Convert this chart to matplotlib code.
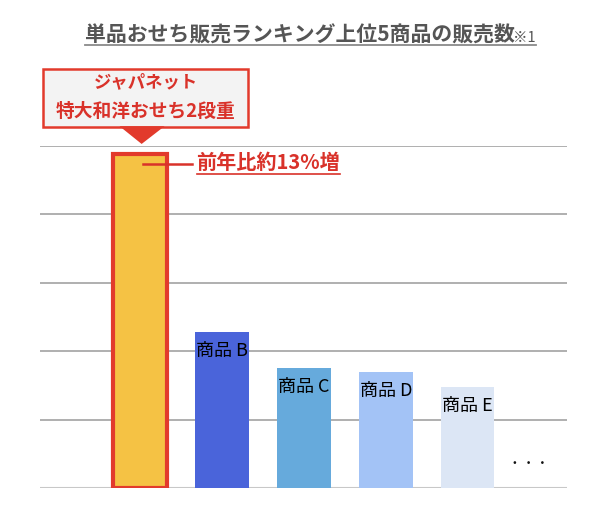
import matplotlib.pyplot as plt
from matplotlib.patches import Rectangle, Polygon

plt.rcParams['font.family'] = ['Noto Sans CJK JP', 'DejaVu Sans']

# ranking data (values in grid units)
products = ["ジャパネット\n特大和洋おせち2段重", "商品 B", "商品 C", "商品 D", "商品 E"]
sales = [4.88, 2.28, 1.75, 1.70, 1.48]
colors = ["#F5C244", "#4A64DA", "#66AADC", "#A3C3F6", "#DCE6F5"]
title = "単品おせち販売ランキング上位5商品の販売数"
note = "※1"
growth = "前年比約13%増"

red = "#D9322A"

fig = plt.figure(figsize=(6, 5.17), dpi=100)
ax = fig.add_axes([40/600, 29/517, 527/600, 342/517])
ax.set_xlim(-1.22, 5.21)
ax.set_ylim(0, 5)

for y in range(1, 6):
    ax.axhline(y, color="#9a9a9a", lw=1.1, zorder=0)
ax.axhline(0, color="#c8c8c8", lw=1.5, zorder=0)

x = list(range(len(sales)))
bars = ax.bar(x, sales, width=0.65, color=colors, zorder=2)
bars[0].set_edgecolor("#E23A2C")
bars[0].set_linewidth(3)

for i in range(1, len(sales)):
    ax.text(x[i], sales[i] - 0.28, products[i], ha="center", va="center",
            fontsize=13, color="#000000", zorder=3)

ax.text(4.74, 0.37, "•    •    •", ha="center", va="center", fontsize=8, color="#111111")

# callout box above the first bar
ax.add_patch(Rectangle((-1.18, 5.28), 2.5, 0.85, facecolor="#F3F3F3",
                       edgecolor="#E23A2C", lw=1.8, clip_on=False, zorder=4))
ax.add_patch(Polygon([(-0.25, 5.29), (0.30, 5.29), (0.02, 5.03)], closed=True,
                     facecolor="#E23A2C", edgecolor="none", clip_on=False, zorder=5))
name1, name2 = products[0].split("\n")
ax.text(0.07, 5.94, name1, ha="center", va="center", fontsize=12.5,
        fontweight="bold", color=red, clip_on=False, zorder=6)
ax.text(0.07, 5.50, name2, ha="center", va="center", fontsize=13.5,
        fontweight="bold", color=red, clip_on=False, zorder=6)

# growth annotation
ax.plot([0.04, 0.63], [4.74, 4.74], color=red, lw=1.8, zorder=6)
gt = ax.text(0.69, 4.76, growth, ha="left", va="center", fontsize=14.5,
             fontweight="bold", color=red, zorder=6)

for s in ax.spines.values():
    s.set_visible(False)
ax.set_xticks([])
ax.set_yticks([])

# title with underline
tt = fig.text(0.50, 1 - 35/517, title, ha="center", va="center", fontsize=15,
              fontweight="bold", color="#555555")
fig.canvas.draw()
r = fig.canvas.get_renderer()
tb = tt.get_window_extent(r)
nt = fig.text((tb.x1 - 2) / 600, 1 - 38/517, note, ha="left", va="center",
              fontsize=10.5, color="#555555")
fig.canvas.draw()
nb = nt.get_window_extent(r)
uy = 1 - 45/517
fig.add_artist(plt.Line2D([tb.x0 / 600, nb.x1 / 600], [uy, uy], color="#8a8a8a", lw=1.3))

gb = gt.get_window_extent(r)
inv = ax.transData.inverted()
gx0 = inv.transform((gb.x0, gb.y0))[0]
gx1 = inv.transform((gb.x1, gb.y0))[0]
ax.plot([gx0, gx1], [4.59, 4.59], color=red, lw=1.2, zorder=6)

fig.savefig("out.png", dpi=100)
